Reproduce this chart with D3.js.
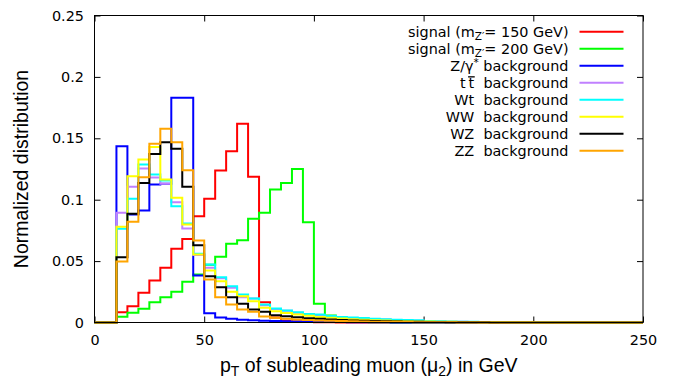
<!DOCTYPE html>
<html>
<head>
<meta charset="utf-8">
<script src="https://cdn.jsdelivr.net/npm/d3@7"></script>
<style>
  body { margin:0; background:#fff; }
  svg { display:block; }
  .axis text { font-family:"DejaVu Sans", sans-serif; font-size:14.4px; fill:#000; }
  .axis line { stroke:#000; }
  .title { font-family:"Liberation Sans", Arial, sans-serif; font-size:19.5px; fill:#000; }
  .legend text { font-family:"DejaVu Sans", sans-serif; font-size:14.4px; fill:#000; white-space:pre; }
</style>
</head>
<body>
<div id="canvas"></div>
<script>
// histogram bins: 5 GeV wide, 0..250 GeV
var binWidth = 5;
var xTicks = [0,50,100,150,200,250];
var yTicks = [0,0.05,0.1,0.15,0.2,0.25];

var signal150 = [0,0,0.0084,0.0133,0.0242,0.0342,0.0445,0.060,0.068,0.0866,0.1007,0.1238,0.1395,0.1618,0.1186,0.0165,0.004,0.0015,0.0008,0.0005,0.0003,0.0002,0.0001,0,0,0,0,0,0,0,0,0,0,0,0,0,0,0,0,0,0,0,0,0,0,0,0,0,0,0];
var signal200 = [0,0,0.0046,0.0079,0.0112,0.0165,0.0206,0.025,0.0331,0.0391,0.047,0.0535,0.0641,0.067,0.0844,0.0893,0.1083,0.1137,0.1251,0.0817,0.0152,0.0057,0.002,0.001,0.0005,0.0003,0.0002,0.0001,0,0,0,0,0,0,0,0,0,0,0,0,0,0,0,0,0,0,0,0,0,0];
var zgamma = [0,0,0.1436,0.088,0.0912,0.1124,0.113,0.183,0.183,0.0383,0.0075,0.004,0.003,0.0022,0.0018,0.0015,0.0012,0.001,0.0008,0.0007,0.0006,0.0005,0.0004,0.0003,0.0003,0.0002,0.0002,0.0001,0.0001,0.0001,0,0,0,0,0,0,0,0,0,0,0,0,0,0,0,0,0,0,0,0];
var ttbar = [0,0,0.0893,0.1105,0.1254,0.118,0.113,0.098,0.0765,0.055,0.0445,0.036,0.0283,0.0206,0.0195,0.014,0.011,0.0095,0.008,0.0068,0.006,0.005,0.0042,0.0037,0.0032,0.0028,0.0024,0.002,0.0017,0.0015,0.0011,0.0009,0.0007,0.0006,0.0005,0.0004,0.0004,0.0003,0.0003,0.0002,0.0002,0.0002,0.0001,0.0001,0.0001,0.0001,0.0001,0,0,0];
var wt = [0,0,0.0763,0.1007,0.1287,0.1205,0.1156,0.0947,0.0806,0.056,0.0472,0.0369,0.0296,0.0228,0.0195,0.0147,0.0114,0.0098,0.0084,0.007,0.0065,0.0052,0.0044,0.004,0.0037,0.003,0.0027,0.0023,0.002,0.0018,0.0012,0.001,0.0008,0.0007,0.0006,0.0005,0.0004,0.0004,0.0003,0.0003,0.0002,0.0002,0.0002,0.0001,0.0001,0.0001,0.0001,0.0001,0,0];
var ww = [0,0,0.078,0.119,0.1327,0.143,0.1164,0.1015,0.0798,0.0554,0.0423,0.0336,0.025,0.0214,0.0174,0.012,0.0092,0.0078,0.0065,0.0055,0.0045,0.0038,0.0032,0.0027,0.0022,0.0019,0.0016,0.0013,0.0011,0.0009,0.0008,0.0007,0.0006,0.0005,0.0004,0.0003,0.0003,0.0002,0.0002,0.0002,0.0001,0.0001,0.0001,0.0001,0,0,0,0,0,0];
var wz = [0,0,0.0532,0.0885,0.1137,0.1372,0.1468,0.1414,0.1105,0.063,0.0377,0.0288,0.0206,0.0152,0.0106,0.0087,0.006,0.005,0.0042,0.0035,0.003,0.0025,0.002,0.0017,0.0014,0.0012,0.001,0.0008,0.0007,0.0006,0.0005,0.0004,0.0003,0.0003,0.0002,0.0002,0.0001,0.0001,0.0001,0,0,0,0,0,0,0,0,0,0,0];
var zz = [0,0,0.0497,0.082,0.1183,0.1455,0.1577,0.1468,0.124,0.0668,0.035,0.0206,0.0147,0.0106,0.0087,0.0048,0.0038,0.003,0.0025,0.002,0.0017,0.0014,0.0012,0.001,0.0008,0.0007,0.0006,0.0005,0.0004,0.0003,0.0003,0.0002,0.0002,0.0001,0.0001,0.0001,0,0,0,0,0,0,0,0,0,0,0,0,0,0];

var seriesValues = [signal150, signal200, zgamma, ttbar, wt, ww, wz, zz];
var seriesColors = ['#ff0000','#00ff00','#0000ff','#c080ff','#00ffff','#ffff00','#000000','#ffa500'];

var m = {t:15.5, r:31, b:56.5, l:94.5};
var outerWidth = 674, outerHeight = 379;
var w = outerWidth - m.l - m.r,
    h = outerHeight - m.t - m.b;

var svg = d3.select('#canvas')
    .append('svg')
    .attr('width',outerWidth)
    .attr('height',outerHeight);

var plot = svg.append('g')
    .attr('transform','translate(' + m.l + ',' + m.t + ')');

var scaleX = d3.scaleLinear().domain([0,250]).range([0,w]);
var scaleY = d3.scaleLinear().domain([0,0.25]).range([h,0]);

//axes, ticks pointing inward on all four sides
plot.append('g')
    .attr('class','axis')
    .attr('transform','translate(0,' + h + ')')
    .call(d3.axisBottom(scaleX).tickValues(xTicks).tickSizeInner(-6).tickSizeOuter(0).tickPadding(12).tickFormat(function(d){return d;}));
plot.append('g')
    .attr('class','axis')
    .call(d3.axisTop(scaleX).tickValues(xTicks).tickSizeInner(-6).tickSizeOuter(0).tickFormat(''));
plot.append('g')
    .attr('class','axis')
    .call(d3.axisLeft(scaleY).tickValues(yTicks).tickSizeInner(-6).tickSizeOuter(0).tickPadding(10.5).tickFormat(function(d){return d;}));
plot.append('g')
    .attr('class','axis')
    .attr('transform','translate(' + w + ',0)')
    .call(d3.axisRight(scaleY).tickValues(yTicks).tickSizeInner(-6).tickSizeOuter(0).tickFormat(''));
plot.selectAll('.axis .domain').remove();

//step histograms
var line = d3.line()
    .x(function(d){return scaleX(d.x);})
    .y(function(d){return scaleY(d.y);})
    .curve(d3.curveStepAfter);

seriesValues.forEach(function(vals,i){
    var pts = vals.map(function(v,j){ return {x:j*binWidth, y:v}; });
    pts.push({x:vals.length*binWidth, y:vals[vals.length-1]});
    plot.append('path')
        .datum(pts)
        .attr('d',line)
        .attr('fill','none')
        .attr('stroke',seriesColors[i])
        .attr('stroke-width',2);
});

//frame
plot.append('rect')
    .attr('width',w)
    .attr('height',h)
    .attr('fill','none')
    .attr('stroke','#000')
    .attr('stroke-width',1);

//legend
var legend = plot.append('g').attr('class','legend');
var rowY = [16.3,33.3,50.3,67.3,84.3,101.3,118.3,135.3];
var textX = 474, sampleX1 = 485, sampleX2 = 529;
var fontPx = 14.4;

function addRow(i, parts){
    var t = legend.append('text')
        .attr('x',textX)
        .attr('y',rowY[i])
        .attr('dy','0.35em')
        .attr('text-anchor','end');
    parts.forEach(function(p){
        var s = t.append('tspan').text(p.t);
        if(p.sub){ s.attr('dy',3).style('font-size','10.5px'); }
        if(p.sup){ s.attr('dy',-4.5).style('font-size','10.5px'); }
        if(p.back){ s.attr('dy',p.back); }
    });
    legend.append('line')
        .attr('x1',sampleX1).attr('x2',sampleX2)
        .attr('y1',rowY[i]).attr('y2',rowY[i])
        .attr('stroke',seriesColors[i])
        .attr('stroke-width',2);
    return t;
}

addRow(0,[{t:'signal (m'},{t:'Z\u2032',sub:true},{t:'= 150 GeV)',back:-3}]);
addRow(1,[{t:'signal (m'},{t:'Z\u2032',sub:true},{t:'= 200 GeV)',back:-3}]);
addRow(2,[{t:'Z/\u03b3'},{t:'*',sup:true},{t:' background',back:4.5}]);
var ttRow = addRow(3,[{t:'t\u2009t  background'}]);
addRow(4,[{t:'Wt  background'}]);
addRow(5,[{t:'WW  background'}]);
addRow(6,[{t:'WZ  background'}]);
addRow(7,[{t:'ZZ  background'}]);

//bar over the second t (anti-top), placed from the measured width of the rest of the label
var probe = legend.append('text').text('  background');
var restW = probe.node().getComputedTextLength() || 6.574 * fontPx;
probe.remove();
var tW = 0.392 * fontPx;
var barX1 = textX - restW;
legend.append('rect')
    .attr('x',barX1 - tW - 0.5)
    .attr('y',rowY[3] - 6.6)
    .attr('width',tW + 1)
    .attr('height',1.3)
    .attr('fill','#000');

//axis titles
var xt = svg.append('text')
    .attr('class','title')
    .attr('x',m.l + w/2)
    .attr('y',372)
    .attr('text-anchor','middle');
xt.append('tspan').text('p');
xt.append('tspan').text('T').attr('dy',4).style('font-size','14px');
xt.append('tspan').text(' of subleading muon (\u03bc').attr('dy',-4);
xt.append('tspan').text('2').attr('dy',4).style('font-size','14px');
xt.append('tspan').text(') in GeV').attr('dy',-4);

svg.append('text')
    .attr('class','title')
    .attr('transform','translate(27.5,' + (m.t + h/2) + ') rotate(-90)')
    .attr('text-anchor','middle')
    .text('Normalized distribution');
</script>
</body>
</html>
